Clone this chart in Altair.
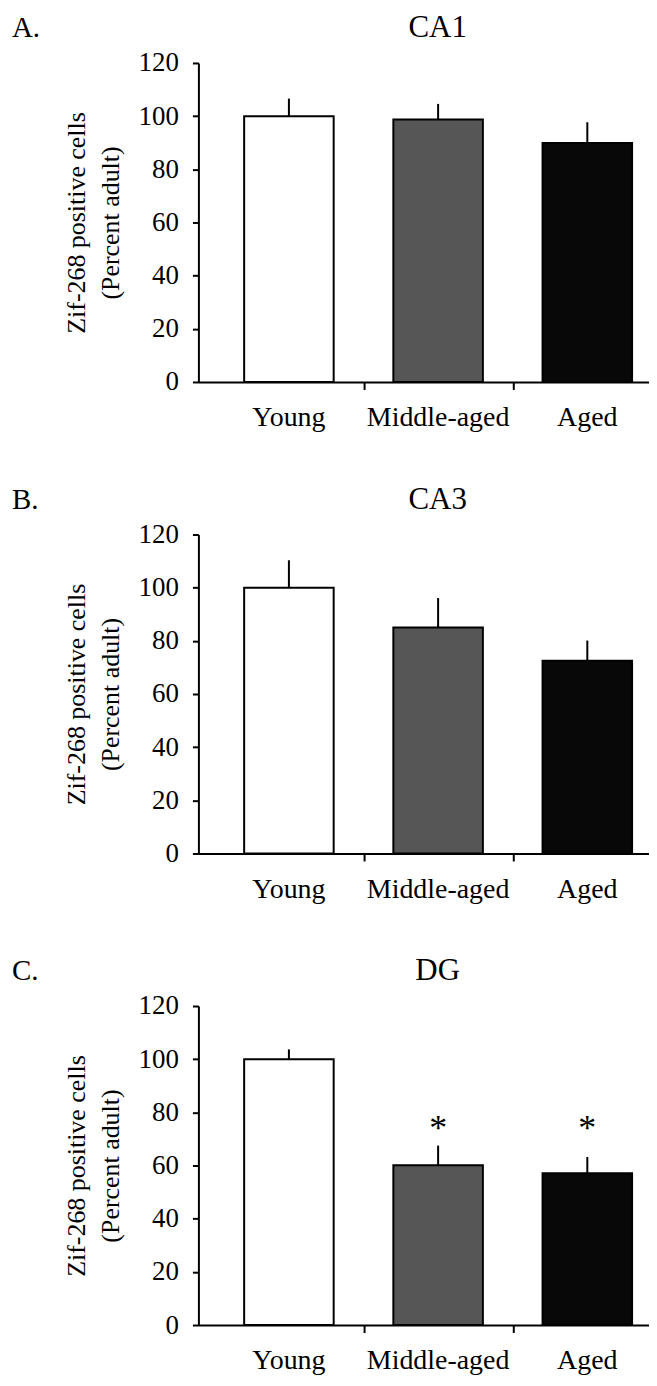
import altair as alt
import pandas as pd

# ---- data ----
groups = ["Young", "Middle-aged", "Aged"]
panel_letters = ["A.", "B.", "C."]
panel_titles = ["CA1", "CA3", "DG"]
ca1_mean = [100.0, 98.7, 89.9]
ca1_sem = [6.6, 5.9, 7.8]
ca3_mean = [100.0, 85.0, 72.5]
ca3_sem = [10.3, 11.1, 7.6]
dg_mean = [100.0, 60.1, 57.1]
dg_sem = [3.7, 7.4, 6.1]
dg_sig = ["", "*", "*"]
sig_level = 76
y_ticks = [0, 20, 40, 60, 80, 100, 120]
bar_colors = ["#ffffff", "#565656", "#080808"]
y_title = ["Zif-268 positive cells", "(Percent adult)"]

FONT = "Liberation Serif"
W, H = 452, 320


def panel(letter, title, mean, sem, sig=None):
    df = pd.DataFrame({
        "group": groups,
        "mean": mean,
        "upper": [m + s for m, s in zip(mean, sem)],
        "sig": sig if sig else [""] * len(groups),
    })
    xscale = alt.Scale(domain=groups, paddingInner=0.4, paddingOuter=0.21, align=0.73)
    x = alt.X("group:N", sort=groups, scale=xscale,
              axis=alt.Axis(title=None, ticks=False, labelAngle=0, labelFont=FONT,
                            labelFontSize=28, labelColor="black", labelPadding=22,
                            domainColor="black", domainWidth=2))
    y = alt.Y("mean:Q", scale=alt.Scale(domain=[0, 120], nice=False),
              axis=alt.Axis(values=y_ticks, title=y_title, labelFont=FONT,
                            labelFontSize=27, labelColor="black", labelPadding=14,
                            tickColor="black", tickSize=6, tickWidth=2,
                            domainColor="black", domainWidth=2,
                            titleFont=FONT, titleFontSize=26, titleFontWeight="normal",
                            titleColor="black", titlePadding=15, titleLineHeight=34))
    bars = alt.Chart(df).mark_bar(stroke="black", strokeWidth=2).encode(
        x=x, y=y,
        fill=alt.Fill("group:N", scale=alt.Scale(domain=groups, range=bar_colors), legend=None),
    )
    err = alt.Chart(df).mark_rule(color="black", strokeWidth=2).encode(
        x=alt.X("group:N", sort=groups), y="mean:Q", y2="upper:Q"
    )
    # category-boundary ticks on the x axis (between the bars)
    tick_df = pd.DataFrame({"group": groups[:-1]})
    ticks = alt.Chart(tick_df).mark_rule(color="black", strokeWidth=2, y2Offset=8, xOffset=31).encode(
        x=alt.X("group:N", sort=groups, bandPosition=1),
        y=alt.datum(0), y2=alt.datum(0),
    )
    lab = alt.Chart(pd.DataFrame({"t": [letter]})).mark_text(
        align="left", baseline="middle", font=FONT, fontSize=29, color="black"
    ).encode(text="t:N", x=alt.value(-187), y=alt.value(-35))
    ttl = alt.Chart(pd.DataFrame({"t": [title]})).mark_text(
        align="center", baseline="middle", font=FONT, fontSize=31, color="black"
    ).encode(text="t:N", x=alt.value(W / 2 + 14), y=alt.value(-35))
    layers = [bars, err, ticks, lab, ttl]
    if sig:
        stars = alt.Chart(df).mark_text(
            font=FONT, fontSize=36, color="black", baseline="middle", dy=6
        ).encode(x=alt.X("group:N", sort=groups), y=alt.datum(sig_level), text="sig:N")
        layers.append(stars)
    return alt.layer(*layers).properties(width=W, height=H)


chart = alt.vconcat(
    panel(panel_letters[0], panel_titles[0], ca1_mean, ca1_sem),
    panel(panel_letters[1], panel_titles[1], ca3_mean, ca3_sem),
    panel(panel_letters[2], panel_titles[2], dg_mean, dg_sem, dg_sig),
    spacing=52,
).properties(
    padding={"left": 4, "top": 2, "right": 0, "bottom": 0}
).configure_view(stroke=None).configure_axis(grid=False)

chart.save("out.html", embed_options={"renderer": "svg", "actions": False})
